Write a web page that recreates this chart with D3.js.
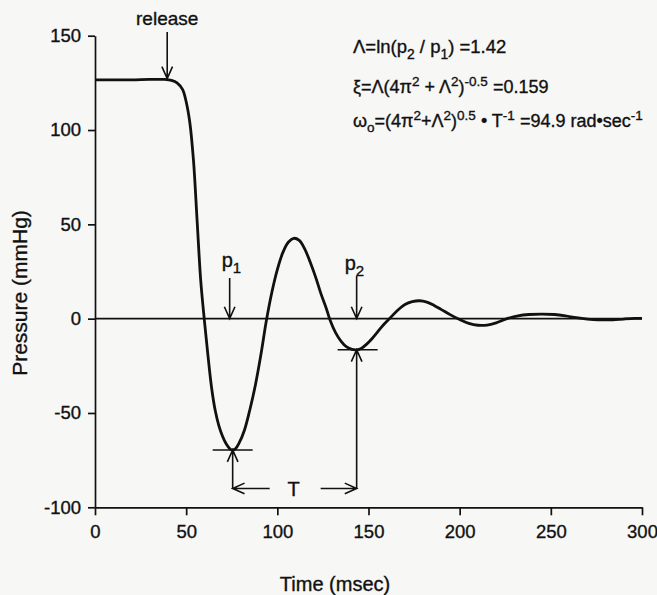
<!DOCTYPE html>
<html>
<head>
<meta charset="utf-8">
<script src="https://cdn.jsdelivr.net/npm/d3@7"></script>
<style>
  body { margin: 0; background: #f7f7f5; }
  svg { display: block; font-family: "Liberation Sans", Arial, Helvetica, sans-serif; }
  svg text { fill: #111; stroke: #111; stroke-width: 0.35; }
  .axis text { font-size: 18.5px; }
  .axis path, .axis line { stroke: #111; stroke-width: 1.7; }
</style>
</head>
<body>
<div id="container"></div>
<script>
// time (msec) and pressure (mmHg)
const time = [0, 10, 20, 30, 38, 42, 45, 48, 50, 52, 54, 56, 58, 60, 62, 64, 66, 68, 70, 72, 74, 75.5, 77, 79, 82, 85, 88, 91, 94, 97,
  100, 103, 106, 109, 112, 115, 118, 121, 124, 127, 129, 132, 135, 138, 141, 143.5, 146, 149, 152, 155, 158, 162, 166, 170, 174,
  178, 182, 186, 190, 195, 200, 205, 210, 215, 220, 226, 232, 238, 245, 252, 258, 264, 270, 276, 284, 290, 296, 300];
const pressure = [126.6, 126.6, 126.6, 126.8, 126.8, 126.3, 125, 121.5, 115, 104, 84, 52, 20, -1, -20, -37, -49, -57, -62.5, -66.5, -69, -69.6, -69, -66, -59, -48, -35, -19, -1, 14,
  26, 35, 40.5, 42.6, 41.5, 37, 30, 22, 13, 5, -1, -7.5, -12, -15, -16.3, -16.5, -15.8, -13.5, -10.5, -7, -3.5, 0.5, 4.5, 7.5, 9,
  9.5, 8.8, 7, 4.8, 2, -0.5, -2.5, -3.5, -3.4, -2.2, 0, 1.5, 2.2, 2.4, 2.2, 1.5, 0.5, -0.2, -0.6, -0.6, -0.2, 0.1, 0.1];

const xTicks = [0, 50, 100, 150, 200, 250, 300];
const yTicks = [-100, -50, 0, 50, 100, 150];

// annotation anchors
const releaseT = 39.6;
const p1 = [75.5, -69.6];
const p2 = [143.5, -16.5];
const tLineLevel = -90;

const w = 657;
const h = 595;
const margin = {top: 35.7, right: 15, bottom: 87.7, left: 95};

const x = d3.scaleLinear().domain([0, 300]).range([margin.left, w - margin.right]);
const y = d3.scaleLinear().domain([-100, 150]).range([h - margin.bottom, margin.top]);

const svg = d3.select("#container")
  .append("svg")
  .attr("width", w)
  .attr("height", h);

// plain hyphen for negatives, like the original
const fmt = d => String(d);

svg.append("g")
  .attr("class", "axis")
  .attr("transform", "translate(0," + y(-100) + ")")
  .call(d3.axisBottom(x).tickValues(xTicks).tickSize(8).tickSizeOuter(0).tickPadding(10).tickFormat(fmt))
  .call(g => g.selectAll("text").attr("dy", "0.71em"));

svg.append("g")
  .attr("class", "axis")
  .attr("transform", "translate(" + x(0) + ",0)")
  .call(d3.axisLeft(y).tickValues(yTicks).tickSize(7).tickSizeOuter(0).tickPadding(7).tickFormat(fmt));

// zero line
svg.append("line")
  .attr("x1", x(0)).attr("x2", x(300))
  .attr("y1", y(0)).attr("y2", y(0))
  .attr("stroke", "#111").attr("stroke-width", 1.6);

// pressure trace
const line = d3.line()
  .x((d, i) => x(time[i]))
  .y(d => y(d))
  .curve(d3.curveCatmullRom);

svg.append("path")
  .datum(pressure)
  .attr("d", line)
  .attr("fill", "none")
  .attr("stroke", "#111")
  .attr("stroke-width", 2.8)
  .attr("stroke-linejoin", "round");

// open V arrow helper
function arrow(x1, y1, x2, y2) {
  const ang = Math.atan2(y2 - y1, x2 - x1);
  const len = 13, spread = 0.42;
  const a1 = [x2 - len * Math.cos(ang - spread), y2 - len * Math.sin(ang - spread)];
  const a2 = [x2 - len * Math.cos(ang + spread), y2 - len * Math.sin(ang + spread)];
  svg.append("path")
    .attr("d", "M" + x1 + "," + y1 + "L" + x2 + "," + y2 + "M" + a1 + "L" + x2 + "," + y2 + "L" + a2)
    .attr("fill", "none")
    .attr("stroke", "#111")
    .attr("stroke-width", 1.6);
}
function seg(x1, y1, x2, y2) {
  svg.append("line")
    .attr("x1", x1).attr("y1", y1).attr("x2", x2).attr("y2", y2)
    .attr("stroke", "#111").attr("stroke-width", 1.6);
}

// release
arrow(x(releaseT), 32, x(releaseT), y(126.8) - 1);
svg.append("text").attr("x", x(releaseT)).attr("y", 25)
  .attr("text-anchor", "middle").attr("font-size", 19).text("release");

// p1
arrow(x(p1[0]) - 3, 278, x(p1[0]) - 3, y(0));
seg(x(p1[0]) - 20, y(p1[1]), x(p1[0]) + 20, y(p1[1]));
arrow(x(p1[0]), y(tLineLevel), x(p1[0]), y(p1[1]));

// p2
arrow(x(p2[0]), 276, x(p2[0]), y(0));
seg(x(p2[0]) - 19, y(p2[1]), x(p2[0]) + 21, y(p2[1]));
arrow(x(p2[0]), y(tLineLevel), x(p2[0]), y(p2[1]));

// T
arrow(x(p1[0]) + 37, y(tLineLevel), x(p1[0]), y(tLineLevel));
arrow(x(p2[0]) - 36, y(tLineLevel), x(p2[0]), y(tLineLevel));
svg.append("text").attr("x", (x(p1[0]) + x(p2[0])) / 2 - 1).attr("y", y(tLineLevel) + 8)
  .attr("text-anchor", "middle").attr("font-size", 20).text("T");

// rich text helper: parts are [text, "sub"|"sup"|undefined]
function rich(px, py, parts, size) {
  const t = svg.append("text").attr("x", px).attr("y", py)
    .attr("font-size", size);
  let shift = 0;
  parts.forEach(p => {
    let target = 0, fs = size;
    if (p[1] === "sub") { target = size * 0.3; fs = size * 0.75; }
    if (p[1] === "sup") { target = -size * 0.4; fs = size * 0.75; }
    t.append("tspan").attr("dy", target - shift).attr("font-size", fs).text(p[0]);
    shift = target;
  });
  return t;
}

function pLabel(px, py, n) {
  rich(px, py, [["p"], [n, "sub"]], 20);
}
pLabel(x(p1[0]) - 11, 267, "1");
pLabel(x(p2[0]) - 12, 270, "2");

// formulas
const fx = 353;
rich(fx, 53, [["Λ=ln(p"], ["2", "sub"], [" / p"], ["1", "sub"], [") =1.42"]], 18.5);
rich(fx, 93, [["ξ=Λ(4π"], ["2", "sup"], [" + Λ"], ["2", "sup"], [")"], ["-0.5", "sup"], [" =0.159"]], 18);
rich(fx, 127, [["ω"], ["o", "sub"], ["=(4π"], ["2", "sup"], ["+Λ"], ["2", "sup"], [")"], ["0.5", "sup"], [" • T"], ["-1", "sup"], [" =94.9 rad•sec"], ["-1", "sup"]], 18);

// axis titles
svg.append("text")
  .attr("transform", "translate(27," + 293 + ") rotate(-90)")
  .attr("text-anchor", "middle").attr("font-size", 21)
  .text("Pressure (mmHg)");
svg.append("text")
  .attr("x", 335).attr("y", 591)
  .attr("text-anchor", "middle").attr("font-size", 20)
  .text("Time (msec)");
</script>
</body>
</html>
